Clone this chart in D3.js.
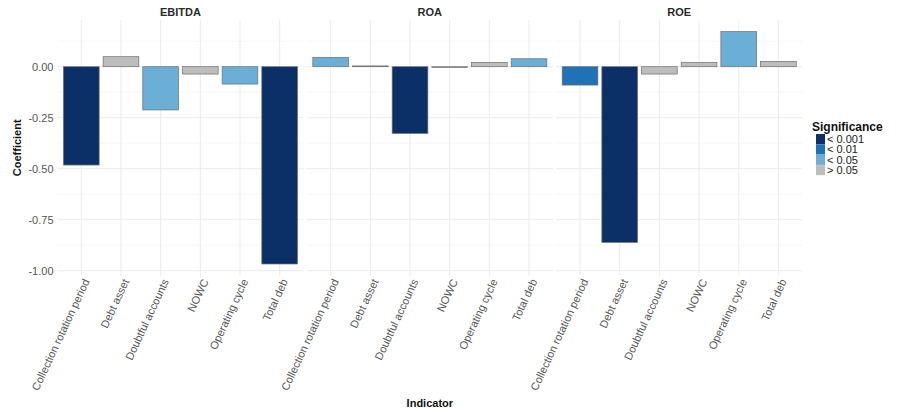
<!DOCTYPE html>
<html>
<head>
<meta charset="utf-8">
<script src="https://cdn.jsdelivr.net/npm/d3@7"></script>
<style>
  html, body { margin: 0; padding: 0; background: #fff; }
  svg { display: block; font-family: "Liberation Sans", Arial, sans-serif; }
</style>
</head>
<body>
<svg id="chart" width="897" height="412"></svg>
<script>
// Regression coefficients by outcome measure and indicator
const panels = ["EBITDA", "ROA", "ROE"];
const indicators = ["Collection rotation period", "Debt asset", "Doubtful accounts", "NOWC", "Operating cycle", "Total deb"];
const ebitdaCoef = [-0.482, 0.049, -0.212, -0.036, -0.085, -0.967];
const roaCoef    = [0.046, 0.004, -0.327, -0.004, 0.021, 0.039];
const roeCoef    = [-0.090, -0.861, -0.036, 0.020, 0.172, 0.026];
const ebitdaSig  = ["< 0.001", "> 0.05", "< 0.05", "> 0.05", "< 0.05", "< 0.001"];
const roaSig     = ["< 0.05", "> 0.05", "< 0.001", "> 0.05", "> 0.05", "< 0.05"];
const roeSig     = ["< 0.01", "< 0.001", "> 0.05", "> 0.05", "< 0.05", "> 0.05"];
const sigLevels  = ["< 0.001", "< 0.01", "< 0.05", "> 0.05"];
const sigColors  = ["#0b2f67", "#2171b5", "#6baed6", "#bdbdbd"];
const yTicks     = [0, -0.25, -0.5, -0.75, -1];

const coefByPanel = { EBITDA: ebitdaCoef, ROA: roaCoef, ROE: roeCoef };
const sigByPanel  = { EBITDA: ebitdaSig,  ROA: roaSig,  ROE: roeSig };

const rows = [];
panels.forEach(p => indicators.forEach((ind, i) => {
  rows.push({ panel: p, indicator: ind, value: coefByPanel[p][i], sig: sigByPanel[p][i] });
}));

const svg = d3.select("#chart");

const plotLeft = 57.5, plotRight = 802.2, plotTop = 20, plotBottom = 275.6;
const panelGap = 3.4;

// facet positions
const panelX = d3.scaleBand()
  .domain(panels)
  .range([plotLeft, plotRight])
  .paddingInner(panelGap * 3 / (plotRight - plotLeft - 2 * panelGap + panelGap * 3) );

// y scale with 5% expansion around the data range
const [lo, hi] = d3.extent(rows, d => d.value);
const pad = (hi - lo) * 0.05;
const y = d3.scaleLinear().domain([lo - pad, hi + pad]).range([plotBottom, plotTop]);

const color = d3.scaleOrdinal().domain(sigLevels).range(sigColors);
const fmt = v => d3.format(".2f")(v).replace("\u2212", "-");

const minorTicks = [];
for (let i = 0; i < yTicks.length - 1; i++) minorTicks.push((yTicks[i] + yTicks[i + 1]) / 2);
minorTicks.push(yTicks[0] + (yTicks[0] - yTicks[1]) / 2);

panels.forEach((p, pi) => {
  const x0 = panelX(p), w = panelX.bandwidth();
  const x = d3.scaleBand().domain(indicators).range([x0, x0 + w]).paddingInner(0.1).paddingOuter(0.15);
  const g = svg.append("g");

  // grid
  g.selectAll(".minor").data(minorTicks.filter(v => y(v) >= plotTop && y(v) <= plotBottom))
    .join("line")
    .attr("x1", x0).attr("x2", x0 + w)
    .attr("y1", d => y(d)).attr("y2", d => y(d))
    .attr("stroke", "#f2f2f2").attr("stroke-width", 0.6);
  g.selectAll(".major").data(yTicks)
    .join("line")
    .attr("x1", x0).attr("x2", x0 + w)
    .attr("y1", d => y(d)).attr("y2", d => y(d))
    .attr("stroke", "#ebebeb").attr("stroke-width", 1);
  g.selectAll(".vgrid").data(indicators)
    .join("line")
    .attr("x1", d => x(d) + x.bandwidth() / 2).attr("x2", d => x(d) + x.bandwidth() / 2)
    .attr("y1", plotTop).attr("y2", plotBottom)
    .attr("stroke", "#ebebeb").attr("stroke-width", 1);

  // bars
  g.selectAll("rect").data(rows.filter(r => r.panel === p))
    .join("rect")
    .attr("x", d => x(d.indicator))
    .attr("width", x.bandwidth())
    .attr("y", d => Math.min(y(d.value), y(0)))
    .attr("height", d => Math.max(Math.abs(y(d.value) - y(0)), 0.8))
    .attr("fill", d => color(d.sig))
    .attr("stroke", "#6e6e6e").attr("stroke-width", 0.7);

  // strip title
  svg.append("text")
    .attr("x", x0 + w / 2).attr("y", 16)
    .attr("text-anchor", "middle")
    .attr("font-size", 11).attr("font-weight", "bold").attr("fill", "#2b2b2b")
    .text(p);

  // x axis labels
  const xAxis = d3.axisBottom(x).tickSize(0).tickPadding(0);
  const ax = svg.append("g").attr("transform", `translate(0,${plotBottom + 4})`).call(xAxis);
  ax.select(".domain").remove();
  ax.selectAll("text")
    .attr("font-size", 11).attr("fill", "#555")
    .attr("font-family", "Liberation Sans, Arial, sans-serif")
    .attr("text-anchor", "end")
    .attr("dy", "0.35em").attr("x", 0).attr("y", 0)
    .attr("transform", "translate(5,0) rotate(-65)");

  // y axis labels on the first facet
  if (pi === 0) {
    const yAxis = d3.axisLeft(y).tickValues(yTicks).tickFormat(fmt).tickSize(0).tickPadding(4);
    const ay = svg.append("g").attr("transform", `translate(${x0},0)`).call(yAxis);
    ay.select(".domain").remove();
    ay.selectAll("text").attr("font-size", 11).attr("fill", "#555")
      .attr("font-family", "Liberation Sans, Arial, sans-serif");
  }
});

// axis titles
svg.append("text")
  .attr("transform", `translate(21,${(plotTop + plotBottom) / 2}) rotate(-90)`)
  .attr("text-anchor", "middle")
  .attr("font-size", 11).attr("font-weight", "bold").attr("fill", "#111")
  .text("Coefficient");
svg.append("text")
  .attr("x", (plotLeft + plotRight) / 2).attr("y", 407)
  .attr("text-anchor", "middle")
  .attr("font-size", 11).attr("font-weight", "bold").attr("fill", "#111")
  .text("Indicator");

// legend
const lg = svg.append("g").attr("transform", "translate(812,122)");
lg.append("text").attr("x", 0).attr("y", 8.5)
  .attr("font-size", 12).attr("font-weight", "bold").attr("fill", "#111")
  .text("Significance");
const item = lg.selectAll(".item").data(sigLevels).join("g")
  .attr("transform", (d, i) => `translate(4,${12 + i * 10.3})`);
item.append("rect").attr("width", 9).attr("height", 10.3)
  .attr("fill", d => color(d));
item.append("text").attr("x", 11).attr("y", 5.3).attr("dy", "0.35em")
  .attr("font-size", 11).attr("fill", "#222")
  .text(d => d);
</script>
</body>
</html>
